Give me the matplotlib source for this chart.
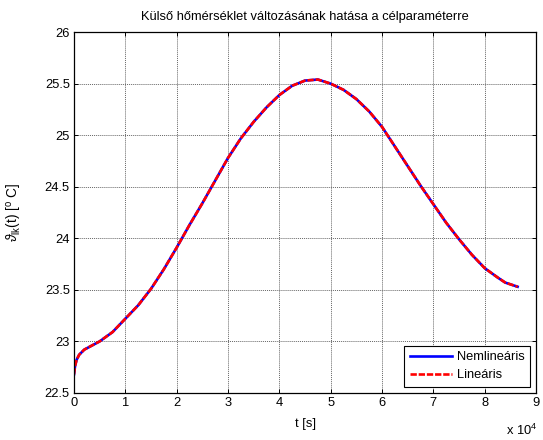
import matplotlib
matplotlib.use("Agg")
import matplotlib.pyplot as plt
from matplotlib.ticker import FuncFormatter

plt.rcParams['font.family'] = ['Liberation Sans', 'DejaVu Sans']
plt.rcParams['mathtext.fontset'] = 'custom'
plt.rcParams['mathtext.rm'] = 'Liberation Sans'
plt.rcParams['mathtext.it'] = 'Liberation Sans:italic'
plt.rcParams['mathtext.fallback'] = 'stixsans'

FS = 9.3

# time in units of 1e4 s
t_1e4 = [0.0, 0.02, 0.05, 0.1, 0.2, 0.35, 0.5, 0.75, 1.0, 1.25, 1.5, 1.75,
         2.0, 2.25, 2.5, 2.75, 3.0, 3.25, 3.5, 3.75, 4.0, 4.25, 4.5, 4.75,
         5.0, 5.25, 5.5, 5.75, 6.0, 6.25, 6.5, 6.75, 7.0, 7.25, 7.5, 7.75,
         8.0, 8.25, 8.4, 8.64]
temp_nonlinear = [22.68, 22.76, 22.82, 22.87, 22.92, 22.96, 23.0, 23.09, 23.22,
                  23.35, 23.51, 23.70, 23.91, 24.13, 24.34, 24.56, 24.78, 24.97,
                  25.13, 25.27, 25.39, 25.48, 25.53, 25.54, 25.50, 25.44, 25.35,
                  25.23, 25.08, 24.89, 24.70, 24.51, 24.33, 24.15, 23.99, 23.84,
                  23.71, 23.62, 23.57, 23.53]
temp_linear = list(temp_nonlinear)

x_ticks = [0, 1, 2, 3, 4, 5, 6, 7, 8, 9]
y_ticks = [22.5, 23, 23.5, 24, 24.5, 25, 25.5, 26]

t_sec = [v * 1e4 for v in t_1e4]

fig = plt.figure(figsize=(5.43, 4.40), dpi=100)
ax = fig.add_axes([0.1363, 0.107, 0.851, 0.820])

ax.plot(t_sec, temp_nonlinear, color=(0, 0, 1), lw=1.9, label='Nemlineáris')
ax.plot(t_sec, temp_linear, color=(1, 0, 0), lw=1.9, ls=(0, (2.4, 0.7)),
        label='Lineáris')

ax.set_xlim(0, 9e4)
ax.set_ylim(22.5, 26)
ax.set_xticks([v * 1e4 for v in x_ticks])
ax.xaxis.set_major_formatter(FuncFormatter(lambda v, p: f"{v / 1e4:g}"))
ax.set_yticks(y_ticks)
ax.yaxis.set_major_formatter(FuncFormatter(lambda v, p: f"{v:g}"))

ax.tick_params(direction='in', top=True, right=True, length=3, width=0.7,
               labelsize=FS, pad=3)
for s in ax.spines.values():
    s.set_linewidth(0.9)

ax.grid(True, color='0.4', ls=(0, (1, 1)), lw=0.7)

ax.set_title('Külső hőmérséklet változásának hatása a célparaméterre',
             fontsize=FS, pad=9)
ax.set_xlabel('t [s]', fontsize=FS)
ax.xaxis.label.set_va('center')
ax.xaxis.set_label_coords(0.5, -0.086)
ax.set_ylabel(r'$\vartheta_{\mathrm{lk}}\mathrm{(t)\ [^o\ C]}$', fontsize=FS + 0.5)
ax.yaxis.label.set_va('center')
ax.yaxis.set_label_coords(-0.128, 0.5)
fig.text(537 / 543, 1 - 430 / 440, r'x 10$^4$', ha='right', va='center',
         fontsize=FS)

leg = ax.legend(loc='lower right', fontsize=FS, fancybox=False,
                edgecolor='black', framealpha=1, borderaxespad=0.45,
                handlelength=3.2, handletextpad=0.4, borderpad=0.45,
                labelspacing=0.45)
leg.get_frame().set_linewidth(0.8)

fig.savefig('out.png', dpi=100)
